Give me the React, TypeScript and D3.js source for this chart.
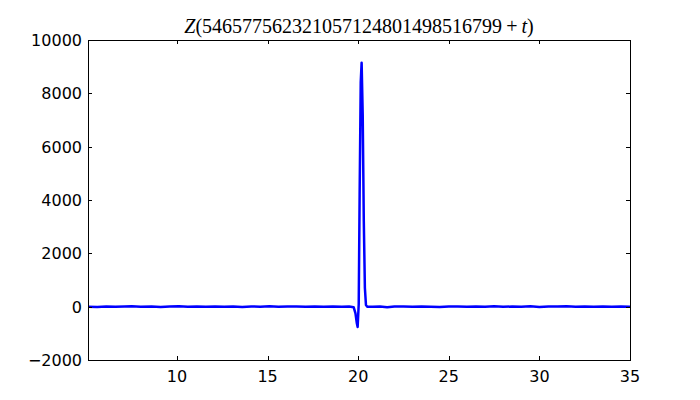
import React, { useEffect, useRef } from 'react';
import * as d3 from 'd3';

// sample points of t and Z(N + t)
const tValues = [
  5.09, 5.6, 6.1, 6.6, 7.1, 7.5, 8.0, 8.6, 9.1, 9.6, 10.1, 10.6, 11.1, 11.6, 12.1,
  12.6, 13.1, 13.6, 14.1, 14.6, 15.1, 15.6, 16.1, 16.6, 17.1, 17.6, 18.1, 18.6, 19.1,
  19.5, 19.75, 19.85, 19.92, 19.97, 20.03, 20.08, 20.14, 20.19, 20.25, 20.31, 20.37,
  20.43, 20.5, 20.8, 21.2, 21.6, 22.0, 22.5, 23.0, 23.5, 24.0, 24.5, 25.0, 25.5, 26.0,
  26.5, 27.0, 27.5, 28.0, 28.5, 29.0, 29.5, 30.0, 30.5, 31.0, 31.5, 32.0, 32.5, 33.0,
  33.5, 34.0, 34.5, 35.0,
];
const zValues = [
  0, -8, 4, -6, 8, 15, -4, 6, -8, 4, 18, -6, 2, -4, 8,
  -2, 4, -10, 6, 0, 12, -4, 2, 8, -6, 4, 0, 10, -4,
  6, -20, -250, -600, -760, 100, 4200, 8400, 9150, 7200, 3200, 700,
  60, 0, -6, 8, -25, 4, 10, -4, 6, 0, -8, 8, 4, -6,
  10, -2, 12, -4, 6, 0, 14, -8, 4, 10, 16, -4, 8, 0,
  6, -4, 4, 0,
];

const xTicks = [10, 15, 20, 25, 30, 35];
const yTicks = [-2000, 0, 2000, 4000, 6000, 8000, 10000];

const W = 700;
const H = 400;
const margin = { left: 88, right: 70, top: 40, bottom: 40 };

export default function App() {
  const svgRef = useRef<SVGSVGElement>(null);

  useEffect(() => {
    const svg = d3.select(svgRef.current);
    svg.selectAll('*').remove();

    const x0 = margin.left;
    const x1 = W - margin.right;
    const y0 = margin.top;
    const y1 = H - margin.bottom;

    const x = d3.scaleLinear().domain([5.09, 35]).range([x0, x1]);
    const y = d3.scaleLinear().domain([-2000, 10000]).range([y1, y0]);

    const pts = tValues.map((t, i) => [t, zValues[i]] as [number, number]);

    svg.append('rect')
      .attr('width', W).attr('height', H).attr('fill', 'white');

    const clip = svg.append('defs').append('clipPath').attr('id', 'plot-clip');
    clip.append('rect')
      .attr('x', x0).attr('y', y0).attr('width', x1 - x0).attr('height', y1 - y0);

    const line = d3.line<[number, number]>()
      .x(d => x(d[0]))
      .y(d => y(d[1]));

    svg.append('path')
      .datum(pts)
      .attr('clip-path', 'url(#plot-clip)')
      .attr('d', line)
      .attr('fill', 'none')
      .attr('stroke', '#0000ff')
      .attr('stroke-width', 2.5)
      .attr('stroke-linejoin', 'round');

    // ticks on all four sides, pointing inward
    const tk = svg.append('g').attr('stroke', 'black').attr('stroke-width', 1);
    xTicks.forEach(v => {
      const px = Math.round(x(v)) + 0.5;
      tk.append('line').attr('x1', px).attr('x2', px).attr('y1', y1).attr('y2', y1 - 4);
      tk.append('line').attr('x1', px).attr('x2', px).attr('y1', y0).attr('y2', y0 + 4);
    });
    yTicks.forEach(v => {
      const py = Math.round(y(v)) + 0.5;
      tk.append('line').attr('x1', x0).attr('x2', x0 + 4).attr('y1', py).attr('y2', py);
      tk.append('line').attr('x1', x1).attr('x2', x1 - 4).attr('y1', py).attr('y2', py);
    });

    svg.append('rect')
      .attr('x', x0 + 0.5).attr('y', y0 + 0.5)
      .attr('width', x1 - x0).attr('height', y1 - y0)
      .attr('fill', 'none').attr('stroke', 'black').attr('stroke-width', 1);

    const lbl = svg.append('g')
      .style('font-family', '"DejaVu Sans", sans-serif')
      .style('font-size', '16px')
      .attr('fill', 'black');

    xTicks.forEach(v => {
      lbl.append('text')
        .attr('x', x(v)).attr('y', y1 + 22)
        .attr('text-anchor', 'middle')
        .text(String(v));
    });
    yTicks.forEach(v => {
      lbl.append('text')
        .attr('x', x0 - 6).attr('y', y(v) + 6)
        .attr('text-anchor', 'end')
        .text(v < 0 ? '\u2212' + Math.abs(v) : String(v));
    });

    // title in math style
    const title = svg.append('text')
      .attr('x', (x0 + x1) / 2).attr('y', 33)
      .attr('text-anchor', 'middle')
      .style('font-family', '"Liberation Serif", "DejaVu Serif", serif')
      .style('font-size', '20px')
      .attr('fill', 'black');
    title.append('tspan').style('font-style', 'italic').text('Z');
    title.append('tspan').text('(546577562321057124801498516799');
    title.append('tspan').text('\u2009+\u2009');
    title.append('tspan').style('font-style', 'italic').text('t');
    title.append('tspan').text(')');
  }, []);

  return (
    <svg
      ref={svgRef}
      width={W}
      height={H}
      style={{ position: 'absolute', left: 0, top: 0, display: 'block' }}
    />
  );
}
